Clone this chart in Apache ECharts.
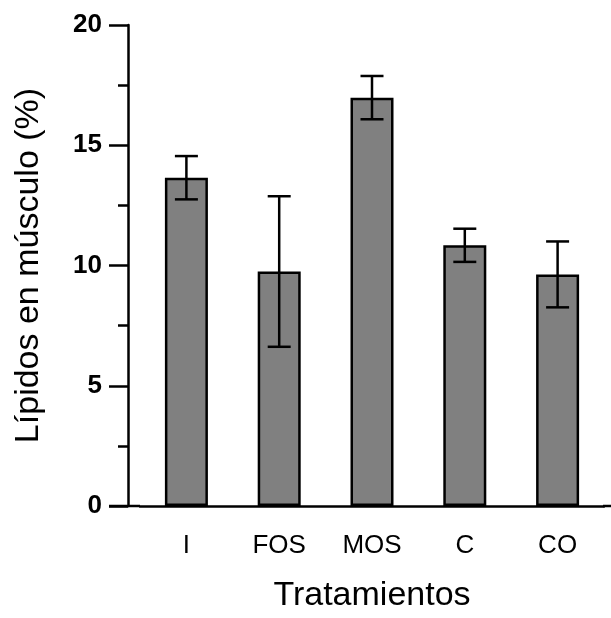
<!DOCTYPE html>
<html>
<head>
<meta charset="utf-8">
<script src="https://cdn.jsdelivr.net/npm/echarts@6/dist/echarts.min.js"></script>
<style>
  html, body { margin: 0; padding: 0; background: #fff; overflow: hidden; }
  #chart { width: 611px; height: 618px; }
</style>
</head>
<body>
<div id="chart"></div>
<script>
// datos
var categories = ['I', 'FOS', 'MOS', 'C', 'CO']
var means = [13.65, 9.75, 16.98, 10.84, 9.63]
var errors = [0.9, 3.13, 0.9, 0.69, 1.37]
var yTicks = [0, 5, 10, 15, 20]

var font = 'Arial, "Liberation Sans", sans-serif'
var gridLeft = 140
var gridRight = 7
var gridTop = 25
var gridBottom = 102

var myChart = echarts.init(document.getElementById('chart'))

var errData = categories.map(function (c, i) {
  return [i, means[i] - errors[i], means[i] + errors[i]]
})

const option = {
  animation: false,
  grid: {
    left: gridLeft,
    right: gridRight,
    top: gridTop,
    bottom: gridBottom
  },
  xAxis: {
    type: 'category',
    data: categories,
    name: 'Tratamientos',
    nameLocation: 'middle',
    nameGap: 73,
    nameTextStyle: { fontFamily: font, fontSize: 34, color: '#000' },
    axisLine: { lineStyle: { color: '#000', width: 2.5 } },
    axisTick: { alignWithLabel: true, length: 19, lineStyle: { color: '#000', width: 2.5 } },
    axisLabel: { fontFamily: font, fontSize: 26, color: '#000', margin: 27 }
  },
  yAxis: {
    type: 'value',
    min: 0,
    max: 20,
    interval: 5,
    offset: 12,
    name: 'Lípidos en músculo (%)',
    nameLocation: 'middle',
    nameGap: 82,
    nameTextStyle: { fontFamily: font, fontSize: 34, color: '#000' },
    axisLine: { show: true, lineStyle: { color: '#000', width: 2.5 } },
    axisTick: { show: true, length: 19, lineStyle: { color: '#000', width: 2.5 } },
    minorTick: { show: true, splitNumber: 2, length: 10, lineStyle: { color: '#000', width: 2.5 } },
    splitLine: { show: false },
    axisLabel: {
      fontFamily: font, fontSize: 26, fontWeight: 'bold', color: '#000', margin: 26,
      formatter: function (v) { return yTicks.indexOf(v) >= 0 ? String(v) : '' }
    }
  },
  series: [
    {
      type: 'bar',
      data: means,
      barWidth: 43,
      itemStyle: { color: '#808080', borderColor: '#000', borderWidth: 2.5 }
    },
    {
      type: 'custom',
      data: errData,
      z: 10,
      renderItem: function (params, api) {
        var x = api.value(0)
        var lo = api.coord([x, api.value(1)])
        var hi = api.coord([x, api.value(2)])
        var half = 11.5
        var style = { stroke: '#000', lineWidth: 2.5 }
        return {
          type: 'group',
          children: [
            { type: 'line', shape: { x1: lo[0], y1: lo[1], x2: hi[0], y2: hi[1] }, style: style },
            { type: 'line', shape: { x1: hi[0] - half, y1: hi[1], x2: hi[0] + half, y2: hi[1] }, style: style },
            { type: 'line', shape: { x1: lo[0] - half, y1: lo[1], x2: lo[0] + half, y2: lo[1] }, style: style }
          ]
        }
      }
    }
  ]
}

myChart.setOption(option)

// el eje x de la figura arranca en el borde de las marcas del eje y
var zeroLeft = myChart.convertToPixel({ gridIndex: 0 }, [0, 0])
var axisY = Math.round(zeroLeft[1])
myChart.setOption({
  graphic: [
    { type: 'line', shape: { x1: gridLeft - 12 - 19, y1: axisY, x2: gridLeft, y2: axisY }, style: { stroke: '#000', lineWidth: 2.5 } },
    { type: 'line', shape: { x1: 611 - gridRight - 1, y1: axisY, x2: 611, y2: axisY }, style: { stroke: '#000', lineWidth: 2.5 } }
  ]
})
</script>
</body>
</html>
